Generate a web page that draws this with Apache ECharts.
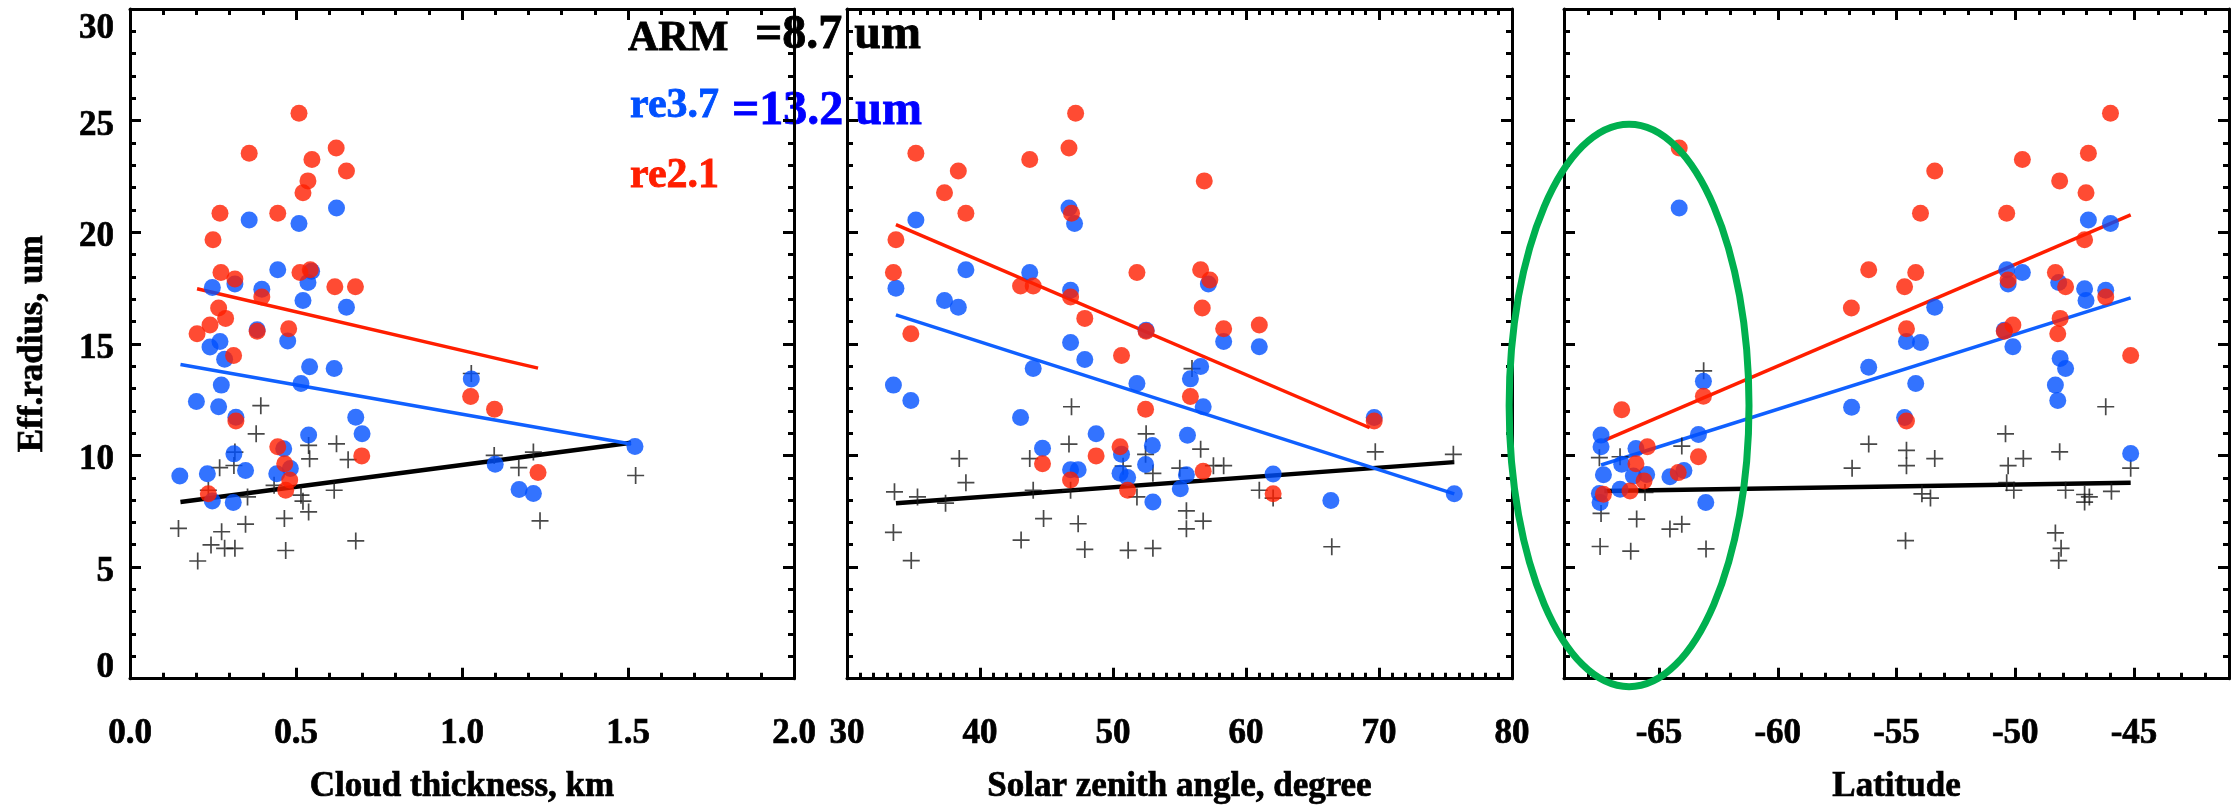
<!DOCTYPE html>
<html>
<head>
<meta charset="utf-8">
<script src="https://cdn.jsdelivr.net/npm/echarts@6/dist/echarts.min.js"></script>
<style>
  html, body { margin: 0; padding: 0; background: #fff; }
  #chart { width: 2239px; height: 810px; }
</style>
</head>
<body>
<div id="chart"></div>
<script>
// ---- Effective radius vs. cloud thickness (km): [x, y] pairs ----
const thickRe21 = [[0.509,25.33],[0.359,23.54],[0.621,23.77],[0.652,22.74],[0.548,23.26],[0.536,22.30],[0.521,21.77],[0.271,20.85],[0.445,20.85],[0.250,19.66],[0.274,18.20],[0.316,17.90],[0.512,18.20],[0.543,18.32],[0.617,17.56],[0.679,17.56],[0.397,17.10],[0.267,16.60],[0.288,16.14],[0.241,15.84],[0.202,15.45],[0.383,15.56],[0.478,15.68],[0.312,14.48],[0.319,11.54],[1.026,12.64],[1.098,12.07],[0.445,10.39],[0.698,9.98],[0.466,9.63],[0.481,8.90],[0.469,8.44],[1.229,9.24],[0.236,8.28]];
const thickRe37 = [[0.622,21.08],[0.359,20.55],[0.509,20.39],[0.445,18.32],[0.547,18.25],[0.536,17.75],[0.521,16.94],[0.248,17.52],[0.316,17.68],[0.397,17.45],[0.652,16.64],[0.383,15.63],[0.271,15.10],[0.241,14.86],[0.475,15.13],[0.285,14.31],[0.541,13.97],[0.615,13.89],[0.515,13.22],[0.275,13.15],[1.028,13.42],[0.200,12.42],[0.267,12.18],[0.319,11.71],[0.680,11.71],[0.699,10.97],[0.538,10.92],[1.521,10.40],[0.313,10.07],[0.463,10.30],[0.348,9.33],[0.150,9.08],[0.233,9.18],[0.442,9.18],[0.483,9.41],[1.100,9.60],[1.172,8.47],[1.215,8.29],[0.248,7.96],[0.311,7.89]];
const thickArm = [[0.146,6.73],[0.204,5.27],[0.236,8.44],[0.244,5.99],[0.270,9.45],[0.276,6.58],[0.285,5.84],[0.316,5.84],[0.313,9.55],[0.316,10.15],[0.348,6.92],[0.354,8.14],[0.380,10.97],[0.394,12.23],[0.434,8.66],[0.465,7.18],[0.469,5.74],[0.515,8.22],[0.521,7.95],[0.538,7.47],[0.538,10.45],[0.541,9.85],[0.615,8.44],[0.622,10.52],[0.657,9.81],[0.680,6.17],[1.028,13.67],[1.097,10.00],[1.171,9.45],[1.215,10.15],[1.235,7.07],[1.523,9.10]];
const thickFitRe21 = [[0.202,17.47],[1.229,13.91]];
const thickFitRe37 = [[0.152,14.07],[1.509,10.51]];
const thickFitArm  = [[0.152,7.91],[1.509,10.57]];

// ---- Effective radius vs. solar zenith angle (degree) ----
const szaRe21 = [[47.19,25.33],[46.69,23.77],[35.18,23.54],[43.74,23.26],[38.37,22.74],[56.86,22.30],[37.33,21.77],[38.94,20.85],[46.88,20.85],[33.68,19.66],[33.49,18.20],[51.80,18.20],[56.59,18.32],[43.05,17.59],[44.00,17.59],[57.28,17.86],[46.81,17.10],[56.71,16.60],[47.88,16.14],[58.32,15.68],[61.00,15.84],[52.49,15.56],[34.80,15.45],[50.64,14.48],[55.82,12.64],[52.45,12.07],[69.64,11.54],[50.53,10.39],[48.73,9.98],[44.70,9.63],[46.81,8.90],[56.78,9.29],[51.10,8.44],[62.04,8.28]];
const szaRe37 = [[46.69,21.08],[35.18,20.55],[47.11,20.39],[38.94,18.32],[43.74,18.20],[33.68,17.49],[46.81,17.40],[57.17,17.68],[37.33,16.94],[38.37,16.64],[52.49,15.61],[46.81,15.06],[58.32,15.10],[61.00,14.87],[47.88,14.30],[44.00,13.89],[56.59,13.98],[55.82,13.43],[33.49,13.15],[51.80,13.22],[56.78,12.18],[34.80,12.46],[43.05,11.70],[69.64,11.70],[48.73,10.97],[55.60,10.90],[52.96,10.44],[44.70,10.32],[50.64,10.05],[46.81,9.36],[47.38,9.36],[52.45,9.59],[50.53,9.20],[51.10,9.01],[55.52,9.13],[62.04,9.17],[55.06,8.51],[53.00,7.91],[66.38,7.98],[75.66,8.28]];
const szaArm = [[46.88,12.18],[46.69,10.51],[52.49,10.97],[55.94,13.89],[69.72,10.16],[75.59,10.05],[38.44,9.86],[43.74,9.86],[38.94,8.78],[56.59,10.28],[57.55,9.54],[58.32,9.54],[55.02,9.43],[53.00,9.20],[50.76,9.52],[52.45,10.05],[33.57,8.37],[35.30,8.14],[37.41,7.86],[44.00,8.44],[46.81,8.44],[51.80,8.14],[61.00,8.44],[62.04,8.09],[33.49,6.55],[34.83,5.29],[43.09,6.21],[44.78,7.17],[47.38,6.94],[47.88,5.79],[51.14,5.75],[53.00,5.84],[55.52,6.71],[56.78,7.06],[55.52,7.52],[66.45,5.91]];
const szaFitRe21 = [[33.68,20.34],[69.30,11.24]];
const szaFitRe37 = [[33.68,16.30],[75.66,8.28]];
const szaFitArm  = [[33.68,7.86],[75.66,9.70]];

// ---- Effective radius vs. latitude ----
const latRe21 = [[-45.99,25.33],[-64.15,23.77],[-46.92,23.54],[-49.70,23.26],[-53.39,22.74],[-48.13,22.30],[-47.02,21.77],[-53.99,20.85],[-50.36,20.85],[-47.08,19.66],[-56.17,18.32],[-54.19,18.20],[-48.31,18.20],[-47.88,17.56],[-54.66,17.56],[-50.30,17.86],[-46.19,17.10],[-56.90,16.60],[-48.11,16.14],[-50.10,15.84],[-50.46,15.56],[-48.21,15.45],[-54.58,15.68],[-45.14,14.48],[-66.57,12.05],[-63.13,12.65],[-54.58,11.54],[-65.49,10.39],[-63.34,9.94],[-65.97,9.63],[-64.19,9.23],[-65.63,8.86],[-66.22,8.41],[-67.34,8.26]];
const latRe37 = [[-64.15,21.08],[-46.92,20.55],[-45.99,20.39],[-50.36,18.32],[-49.70,18.20],[-48.17,17.75],[-50.30,17.68],[-47.08,17.47],[-46.19,17.40],[-47.02,16.94],[-53.39,16.64],[-54.58,15.10],[-53.99,15.06],[-50.46,15.61],[-50.10,14.87],[-48.11,14.34],[-47.88,13.89],[-56.17,13.95],[-63.13,13.32],[-54.19,13.22],[-48.31,13.15],[-48.21,12.46],[-56.89,12.16],[-54.66,11.70],[-67.44,10.91],[-67.44,10.39],[-63.34,10.94],[-65.97,10.31],[-45.14,10.09],[-66.57,9.60],[-67.34,9.13],[-66.08,9.08],[-65.52,9.15],[-64.54,9.04],[-63.95,9.33],[-66.64,8.48],[-67.51,8.29],[-67.48,7.89],[-63.03,7.89]];
const latArm = [[-63.12,13.79],[-46.19,12.18],[-50.41,10.97],[-56.17,10.51],[-54.58,10.23],[-48.13,10.16],[-53.39,9.86],[-49.66,9.86],[-56.87,9.43],[-54.58,9.54],[-50.30,9.54],[-45.14,9.43],[-50.36,8.78],[-50.06,8.44],[-47.88,8.44],[-45.95,8.39],[-53.93,8.28],[-53.57,8.09],[-47.08,8.25],[-46.88,8.14],[-47.08,7.91],[-54.62,6.18],[-48.31,6.53],[-48.07,5.84],[-48.17,5.29],[-64.04,10.42],[-67.51,9.90],[-66.64,9.94],[-65.59,8.34],[-67.44,7.40],[-65.94,7.15],[-64.54,6.70],[-64.04,6.92],[-67.48,5.92],[-66.19,5.71],[-63.02,5.81]];
const latFitRe21 = [[-67.30,10.67],[-45.14,20.78]];
const latFitRe37 = [[-67.44,9.57],[-45.14,17.06]];
const latFitArm  = [[-67.30,8.41],[-45.14,8.78]];

// Highlighted high-latitude region: centre lat, centre re, half-width (deg), half-height (um)
const circledRegion = [[-66.26, 12.24, 5.05, 12.6]];

// Tick labels
const latTicks = [-65, -60, -55, -50, -45];

// Legend lines
const legendLabels = ['ARM', 're3.7', 're2.1'];
const legendValues = ['=8.7 um', '=13.2 um'];

// ---- styling ----
const FONT = '"Liberation Serif", "Times New Roman", serif';
const BLUE = '#0050ff';
const RED = '#ff1e00';
const CROSS = 'path://M9,0h2v20h-2zM0,9h20v2h-20z';
const AXLINE = { show: true, onZero: false, lineStyle: { color: '#000', width: 3 } };
const TICKLINE = { width: 3, color: '#000' };
const labelStyle = { fontFamily: FONT, fontWeight: 'bold', fontSize: 35, color: '#000',
  textBorderColor: '#000', textBorderWidth: 0.7 };
const nameStyle = { fontFamily: FONT, fontWeight: 'bold', fontSize: 35, color: '#000',
  textBorderColor: '#000', textBorderWidth: 0.7 };

const grids = [
  { left: 130, top: 9, width: 664, height: 673 },
  { left: 847, top: 9, width: 665, height: 673 },
  { left: 1564, top: 9, width: 665, height: 673 }
];

function regularX(gridIndex, pos, min, max, interval, minorSplit, fmt, name) {
  const ax = {
    type: 'value', gridIndex, position: pos, min, max, interval, z: 3,
    axisLine: AXLINE,
    axisTick: { show: true, inside: true, length: 11, lineStyle: TICKLINE },
    minorTick: { show: true, splitNumber: minorSplit, length: 6, lineStyle: TICKLINE },
    splitLine: { show: false }, minorSplitLine: { show: false },
    axisLabel: { show: pos === 'bottom', margin: 38, formatter: fmt, ...labelStyle }
  };
  if (name) {
    Object.assign(ax, { name, nameLocation: 'middle', nameGap: 91, nameTextStyle: nameStyle });
  }
  return ax;
}

function latMajor(pos) {
  const ax = {
    type: 'value', gridIndex: 2, position: pos, min: -69, max: -41, z: 3,
    axisLine: AXLINE,
    axisTick: { show: true, inside: true, length: 11, customValues: latTicks, lineStyle: TICKLINE },
    splitLine: { show: false },
    axisLabel: { show: pos === 'bottom', margin: 38, customValues: latTicks, ...labelStyle }
  };
  if (pos === 'bottom') {
    Object.assign(ax, { name: 'Latitude', nameLocation: 'middle', nameGap: 91, nameTextStyle: nameStyle });
  }
  return ax;
}

function latMinor(pos) {
  return {
    type: 'value', gridIndex: 2, position: pos, min: -69, max: -41, interval: 1, z: 3,
    axisLine: { show: false, onZero: false },
    axisTick: { show: true, inside: true, length: 6, lineStyle: TICKLINE },
    splitLine: { show: false },
    axisLabel: { show: false }
  };
}

function yAxisFor(gridIndex, pos, withLabels) {
  const ax = {
    type: 'value', gridIndex, position: pos, min: 0, max: 30, interval: 5, z: 3,
    axisLine: AXLINE,
    axisTick: { show: true, inside: true, length: 11, lineStyle: TICKLINE },
    minorTick: { show: true, splitNumber: 5, length: 6, lineStyle: TICKLINE },
    splitLine: { show: false }, minorSplitLine: { show: false },
    axisLabel: {
      show: withLabels, margin: 16,
      formatter: v => v === 30 ? '{hi|30}' : (v === 0 ? '{lo|0}' : '{n|' + v + '}'),
      rich: {
        hi: { ...labelStyle, padding: [39, 0, 0, 0] },
        lo: { ...labelStyle, padding: [0, 0, 22, 0] },
        n:  { ...labelStyle, padding: [10, 0, 0, 0] }
      },
      ...labelStyle
    }
  };
  if (withLabels) {
    Object.assign(ax, { name: 'Eff.radius, um', nameLocation: 'middle', nameGap: 80, nameTextStyle: nameStyle });
  }
  return ax;
}

const xAxes = [
  regularX(0, 'bottom', 0, 2, 0.5, 5, v => v.toFixed(1), 'Cloud thickness, km'),
  regularX(0, 'top', 0, 2, 0.5, 5, v => v.toFixed(1)),
  regularX(1, 'bottom', 30, 80, 10, 10, v => String(v), 'Solar zenith angle, degree'),
  regularX(1, 'top', 30, 80, 10, 10, v => String(v)),
  latMajor('bottom'),
  latMajor('top'),
  latMinor('bottom'),
  latMinor('top')
];

const yAxes = [
  yAxisFor(0, 'left', true), yAxisFor(0, 'right', false),
  yAxisFor(1, 'left', false), yAxisFor(1, 'right', false),
  yAxisFor(2, 'left', false), yAxisFor(2, 'right', false)
];

function panelSeries(xi, yi, re21, re37, arm, fit21, fit37, fitArm) {
  const line = (data, color, width) => ({
    type: 'line', xAxisIndex: xi, yAxisIndex: yi, data, symbol: 'none', z: 2,
    lineStyle: { color, width }, silent: true
  });
  return [
    line(fitArm, '#000', 4.5),
    line(fit37, '#1060ff', 3.5),
    line(fit21, RED, 3.5),
    { type: 'scatter', xAxisIndex: xi, yAxisIndex: yi, data: arm, symbol: CROSS, symbolSize: 17,
      itemStyle: { color: '#1a1a1a' }, z: 3 },
    { type: 'scatter', xAxisIndex: xi, yAxisIndex: yi, data: re37, symbol: 'circle', symbolSize: 17,
      itemStyle: { color: BLUE }, z: 4 },
    { type: 'scatter', xAxisIndex: xi, yAxisIndex: yi, data: re21, symbol: 'circle', symbolSize: 17,
      itemStyle: { color: RED }, z: 5 }
  ];
}

const series = [
  ...panelSeries(0, 0, thickRe21, thickRe37, thickArm, thickFitRe21, thickFitRe37, thickFitArm),
  ...panelSeries(2, 2, szaRe21, szaRe37, szaArm, szaFitRe21, szaFitRe37, szaFitArm),
  ...panelSeries(4, 4, latRe21, latRe37, latArm, latFitRe21, latFitRe37, latFitArm),
  {
    type: 'custom', xAxisIndex: 4, yAxisIndex: 4, data: circledRegion, clip: false, z: 10, silent: true,
    renderItem: (params, api) => {
      const c = api.coord([api.value(0), api.value(1)]);
      const s = api.size([api.value(2), api.value(3)]);
      return {
        type: 'ellipse',
        shape: { cx: c[0], cy: c[1], rx: s[0], ry: s[1] },
        style: { fill: 'none', stroke: '#00b04f', lineWidth: 7 }
      };
    }
  }
];

const legendText = (text, x, y, size, color) => ({
  type: 'text', x, y, z: 0,
  style: { text, fill: color, stroke: color, lineWidth: 0.8,
    font: 'bold ' + size + 'px ' + FONT, verticalAlign: 'middle', align: 'left' }
});

const option = {
  animation: false,
  backgroundColor: '#fff',
  grid: grids,
  xAxis: xAxes,
  yAxis: yAxes,
  series,
  graphic: { elements: [
    legendText(legendLabels[0], 628, 39, 42, '#000'),
    legendText(legendValues[0], 755, 36, 48, '#000'),
    legendText(legendLabels[1], 630, 106, 42, BLUE),
    legendText(legendValues[1], 732, 112, 48, '#0000ff'),
    legendText(legendLabels[2], 630, 176, 42, RED)
  ] }
};

const chart = echarts.init(document.getElementById('chart'), null, { renderer: 'canvas' });
chart.setOption(option);
</script>
</body>
</html>
